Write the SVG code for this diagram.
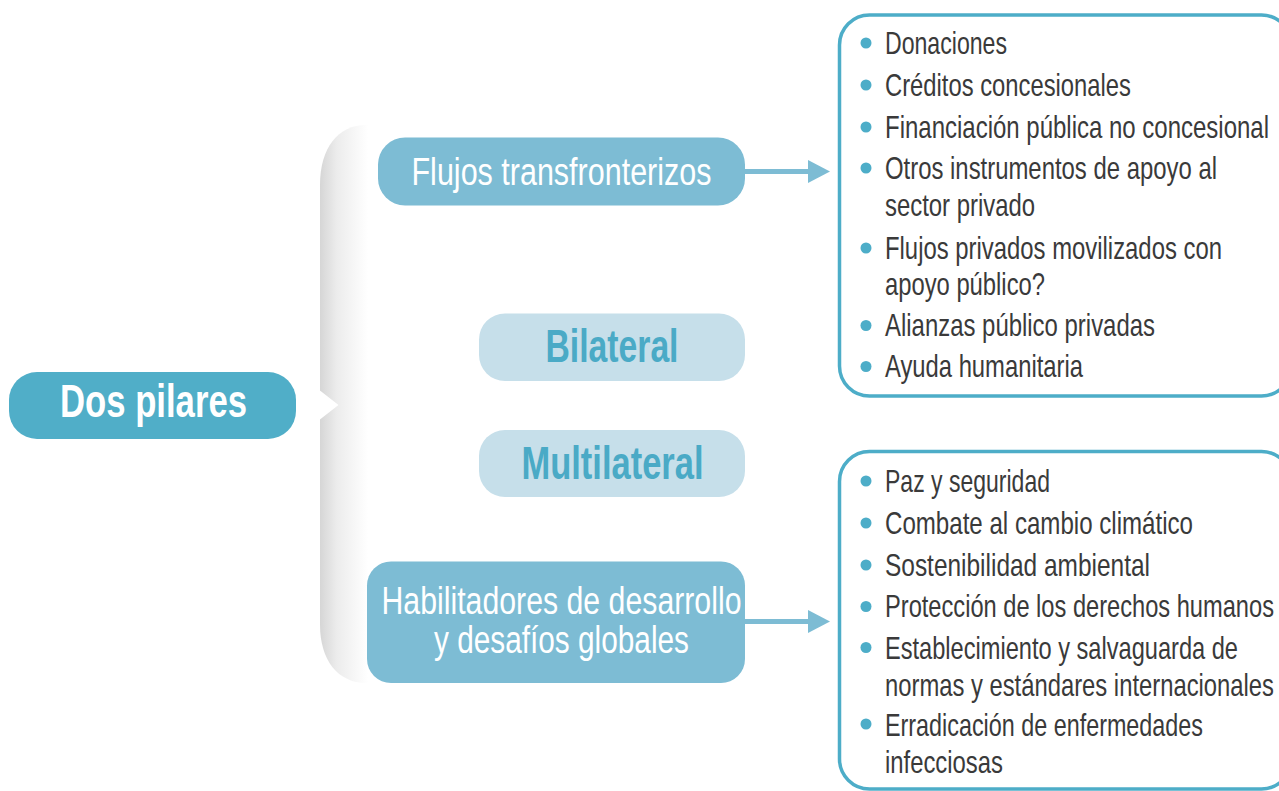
<svg xmlns="http://www.w3.org/2000/svg" width="1279" height="791" viewBox="0 0 1279 791">
<style>
.body{font-family:"Liberation Sans",Arial,sans-serif;font-size:31px;fill:#3a3a3a}
.lbl{font-family:"Liberation Sans",Arial,sans-serif;font-size:39px;fill:#ffffff}
.bold{font-family:"Liberation Sans",Arial,sans-serif;font-size:46px;font-weight:bold}
.mid{fill:#7dbcd4}
.pale{fill:#c6dfea}
.bul{fill:#4dadc8}
.list{fill:none;stroke:#4dadc8;stroke-width:3.5}
.conn{stroke:#7dbcd4;stroke-width:5;fill:none}
</style>
<defs>
<linearGradient id="shade" gradientUnits="userSpaceOnUse" x1="320" y1="0" x2="368" y2="0">
<stop offset="0" stop-color="#d6d6d6"/>
<stop offset="0.35" stop-color="#ececec"/>
<stop offset="1" stop-color="#ffffff"/>
</linearGradient>
<marker id="arr" markerUnits="userSpaceOnUse" markerWidth="22" markerHeight="24" refX="12" refY="12" orient="auto">
<path d="M0,0.5 L22,12 L0,23.5 Z" fill="#7dbcd4"/>
</marker>
</defs>
<rect width="1279" height="791" fill="#ffffff"/>

<g id="brace">
<path d="M380,125 L366,125 C338,125 320,148 320,185 L320,625 C320,660 338,683 366,683 L380,683 Z" fill="url(#shade)"/>
<polygon points="318,389 338.5,405 318,421" fill="#ffffff"/>
</g>

<g id="connectors">
<line class="conn" x1="745" y1="171.5" x2="820" y2="171.5" marker-end="url(#arr)"/>
<line class="conn" x1="745" y1="621.5" x2="820" y2="621.5" marker-end="url(#arr)"/>
</g>

<g id="dos-pilares">
<rect x="9" y="372" width="287" height="67" rx="28" fill="#50aec8"/>
<g transform="scale(0.76,1)">
<text class="bold" x="78.95" y="417" fill="#ffffff" textLength="246.05" lengthAdjust="spacingAndGlyphs">Dos pilares</text>
</g>
</g>

<g id="flujos">
<rect class="mid" x="378" y="137.5" width="367" height="68" rx="27"/>
<g transform="scale(0.76,1)">
<text class="lbl" x="541.45" y="185" textLength="394.74" lengthAdjust="spacingAndGlyphs">Flujos transfronterizos</text>
</g>
</g>

<g id="bilateral">
<rect class="pale" x="479" y="313.5" width="266" height="67.5" rx="26"/>
<g transform="scale(0.76,1)">
<text class="bold" x="717.76" y="362.5" fill="#4aaac6" textLength="175" lengthAdjust="spacingAndGlyphs">Bilateral</text>
</g>
</g>

<g id="multilateral">
<rect class="pale" x="479" y="430" width="266" height="67" rx="26"/>
<g transform="scale(0.76,1)">
<text class="bold" x="686.18" y="479.5" fill="#4aaac6" textLength="239.47" lengthAdjust="spacingAndGlyphs">Multilateral</text>
</g>
</g>

<g id="habilitadores">
<rect class="mid" x="367" y="561.5" width="378" height="121.5" rx="24"/>
<g transform="scale(0.76,1)">
<text class="lbl" x="501.97" y="614" textLength="473.68" lengthAdjust="spacingAndGlyphs">Habilitadores de desarrollo</text>
<text class="lbl" x="571.05" y="653.5" textLength="335.53" lengthAdjust="spacingAndGlyphs">y desafíos globales</text>
</g>
</g>

<g id="lista-flujos">
<rect class="list" x="839.5" y="15" width="452" height="381" rx="30"/>
<circle class="bul" cx="866" cy="43" r="5.5"/>
<circle class="bul" cx="866" cy="85" r="5.5"/>
<circle class="bul" cx="866" cy="127" r="5.5"/>
<circle class="bul" cx="866" cy="168" r="5.5"/>
<circle class="bul" cx="866" cy="248" r="5.5"/>
<circle class="bul" cx="866" cy="325.5" r="5.5"/>
<circle class="bul" cx="866" cy="366.5" r="5.5"/>
<g transform="scale(0.76,1)">
<text class="body" x="1164.47" y="54" textLength="160.53" lengthAdjust="spacingAndGlyphs">Donaciones</text>
<text class="body" x="1164.47" y="96" textLength="323.68" lengthAdjust="spacingAndGlyphs">Créditos concesionales</text>
<text class="body" x="1164.47" y="138" textLength="505.26" lengthAdjust="spacingAndGlyphs">Financiación pública no concesional</text>
<text class="body" x="1164.47" y="179" textLength="436.84" lengthAdjust="spacingAndGlyphs">Otros instrumentos de apoyo al</text>
<text class="body" x="1164.47" y="216" textLength="197.37" lengthAdjust="spacingAndGlyphs">sector privado</text>
<text class="body" x="1164.47" y="259" textLength="443.42" lengthAdjust="spacingAndGlyphs">Flujos privados movilizados con</text>
<text class="body" x="1164.47" y="295" textLength="210.53" lengthAdjust="spacingAndGlyphs">apoyo público?</text>
<text class="body" x="1164.47" y="336.5" textLength="355.26" lengthAdjust="spacingAndGlyphs">Alianzas público privadas</text>
<text class="body" x="1164.47" y="377.5" textLength="260.53" lengthAdjust="spacingAndGlyphs">Ayuda humanitaria</text>
</g>
</g>

<g id="lista-habilitadores">
<rect class="list" x="839.5" y="451.5" width="452" height="337.5" rx="30"/>
<circle class="bul" cx="866" cy="481" r="5.5"/>
<circle class="bul" cx="866" cy="523" r="5.5"/>
<circle class="bul" cx="866" cy="565" r="5.5"/>
<circle class="bul" cx="866" cy="606.5" r="5.5"/>
<circle class="bul" cx="866" cy="647.5" r="5.5"/>
<circle class="bul" cx="866" cy="724" r="5.5"/>
<g transform="scale(0.76,1)">
<text class="body" x="1164.47" y="492" textLength="217.11" lengthAdjust="spacingAndGlyphs">Paz y seguridad</text>
<text class="body" x="1164.47" y="534" textLength="405.26" lengthAdjust="spacingAndGlyphs">Combate al cambio climático</text>
<text class="body" x="1164.47" y="576" textLength="348.68" lengthAdjust="spacingAndGlyphs">Sostenibilidad ambiental</text>
<text class="body" x="1164.47" y="617.5" textLength="511.84" lengthAdjust="spacingAndGlyphs">Protección de los derechos humanos</text>
<text class="body" x="1164.47" y="659" textLength="464.47" lengthAdjust="spacingAndGlyphs">Establecimiento y salvaguarda de</text>
<text class="body" x="1164.47" y="696" textLength="511.84" lengthAdjust="spacingAndGlyphs">normas y estándares internacionales</text>
<text class="body" x="1164.47" y="736" textLength="418.42" lengthAdjust="spacingAndGlyphs">Erradicación de enfermedades</text>
<text class="body" x="1164.47" y="773" textLength="155.26" lengthAdjust="spacingAndGlyphs">infecciosas</text>
</g>
</g>
</svg>
